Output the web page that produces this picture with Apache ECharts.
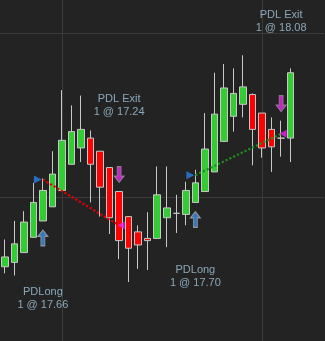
<!DOCTYPE html>
<html>
<head>
<meta charset="utf-8">
<script src="https://cdn.jsdelivr.net/npm/echarts@6/dist/echarts.min.js"></script>
<style>
html,body{margin:0;padding:0;background:#232323;}
#chart{width:325px;height:341px;}
</style>
</head>
<body>
<div id="chart"></div>
<script>
// ---- data ----
const categories = ['c1','c2','c3','c4','c5','c6','c7','c8','c9','c10','c11','c12','c13','c14','c15','c16','c17','c18','c19','c20','c21','c22','c23','c24','c25','c26','c27','c28','c29','c30','c31','c32','c33','c34'];
const opens  = [16.86,16.90,16.99,17.13,17.28,17.41,17.56,17.80,17.95,18.04,17.92,17.77,17.55,17.32,17.18,17.12,17.12,17.31,17.35,17.34,17.45,17.55,17.73,18.01,18.24,18.35,18.44,18.27,18.12,18.04,18.04];
const closes = [16.95,17.07,17.27,17.45,17.56,17.71,18.02,18.10,18.12,17.80,17.59,17.31,17.10,17.03,17.06,17.10,17.52,17.40,17.35,17.56,17.63,17.94,18.26,18.50,18.45,18.51,18.12,17.95,17.96,18.04,18.64];
const lows   = [16.80,16.78,16.99,17.13,17.28,17.41,17.56,17.80,17.82,17.45,17.32,17.16,16.93,16.72,16.84,16.83,17.12,17.04,17.17,17.24,17.45,17.55,17.73,18.01,18.10,18.23,17.79,17.86,17.73,17.87,17.82];
const highs  = [17.11,17.28,17.37,17.63,17.67,17.92,18.48,18.34,18.43,18.11,17.92,17.77,17.55,17.32,17.24,17.36,17.78,17.78,17.52,17.64,17.75,18.27,18.64,18.72,18.68,18.80,18.45,18.27,18.23,18.20,18.68];

const entryIdx    = [4, 20];
const entryPrices = [17.66, 17.70];
const entryNames  = ['PDLong', 'PDLong'];
const exitIdx     = [12, 29];
const exitPrices  = [17.24, 18.08];
const exitNames   = ['PDL Exit', 'PDL Exit'];
const quantities  = [1, 1];

const gridPrices = [17.5, 19.0];
const gridCats   = [6, 27];

// ---- layout / style ----
const yMin = 16.179, yMax = 19.307;
const entryLabelOffsets = [77, 74];
const exitLabelOffsets  = [-86, -99];
const textColor = '#a2c8de';
const upArrow = 'path://M5,0 L10,6.5 L7,6.5 L7,16 L3,16 L3,6.5 L0,6.5 Z';
const downArrow = 'path://M3,0 L7,0 L7,9.5 L10,9.5 L5,16 L0,9.5 L3,9.5 Z';
const rightTri = 'path://M0,0 L7,3.5 L0,7 Z';
const leftTri = 'path://M7,0 L0,3.5 L7,7 Z';

const candleData = opens.map((o, i) => [o, closes[i], lows[i], highs[i]]);

const series = [];
series.push({
  type: 'candlestick',
  data: candleData,
  barWidth: 7,
  z: 2,
  itemStyle: {
    color: '#33cc33', color0: '#ff0000',
    borderColor: '#c8c8c8', borderColor0: '#c8c8c8', borderColorDoji: '#c8c8c8',
    borderWidth: 1
  },
  markLine: {
    silent: true, symbol: 'none', z: 0, animation: false,
    label: {show: false},
    lineStyle: {color: '#3b3b3b', width: 1, type: 'solid'},
    data: gridPrices.map(p => ({yAxis: p})).concat(gridCats.map(c => ({xAxis: categories[c]})))
  }
});

// dotted trade lines
entryIdx.forEach((ei, t) => {
  const win = exitPrices[t] > entryPrices[t];
  series.push({
    type: 'line', z: 3, symbol: 'none', silent: true,
    data: [[ei, entryPrices[t]], [exitIdx[t], exitPrices[t]]],
    lineStyle: {color: win ? '#1f8f1f' : '#e80000', width: 2.2, type: [2.2, 2]}
  });
});

// entry triangles
series.push({
  type: 'scatter', z: 4, silent: true,
  symbol: rightTri, symbolSize: [8, 8], symbolOffset: [-5, 0],
  itemStyle: {color: '#2a7fe8'},
  data: entryIdx.map((ei, t) => [ei, entryPrices[t]])
});
// exit triangles
series.push({
  type: 'scatter', z: 4, silent: true,
  symbol: leftTri, symbolSize: [7, 8], symbolOffset: [2, 0],
  itemStyle: {color: '#f020f0'},
  data: exitIdx.map((xi, t) => [xi, exitPrices[t]])
});
// entry arrows (below candle low)
series.push({
  type: 'scatter', z: 4, silent: true,
  symbol: upArrow, symbolSize: [10, 16], symbolOffset: [0, 17],
  itemStyle: {color: '#3f8de0', borderColor: '#a9a9a9', borderWidth: 1},
  data: entryIdx.map(ei => [ei, lows[ei]])
});
// exit arrows (above candle high)
series.push({
  type: 'scatter', z: 4, silent: true,
  symbol: downArrow, symbolSize: [10, 16], symbolOffset: [0, -17],
  itemStyle: {color: '#e52ee5', borderColor: '#9a8a9a', borderWidth: 1},
  data: exitIdx.map(xi => [xi, highs[xi]])
});
// labels
const labelStyle = {
  show: true, position: 'inside', color: textColor,
  fontFamily: 'Liberation Sans, Arial, sans-serif', fontSize: 11,
  lineHeight: 13, align: 'center', verticalAlign: 'middle'
};
entryIdx.forEach((ei, t) => {
  series.push({
    type: 'scatter', z: 5, silent: true, symbolSize: 1,
    itemStyle: {color: 'rgba(0,0,0,0)'},
    label: Object.assign({}, labelStyle, {
      offset: [0, entryLabelOffsets[t]],
      formatter: entryNames[t] + '\n' + quantities[t] + ' @ ' + entryPrices[t].toFixed(2)
    }),
    data: [[ei, lows[ei]]]
  });
});
exitIdx.forEach((xi, t) => {
  series.push({
    type: 'scatter', z: 5, silent: true, symbolSize: 1,
    itemStyle: {color: 'rgba(0,0,0,0)'},
    label: Object.assign({}, labelStyle, {
      offset: [0, exitLabelOffsets[t]],
      formatter: exitNames[t] + '\n' + quantities[t] + ' @ ' + exitPrices[t].toFixed(2)
    }),
    data: [[xi, highs[xi]]]
  });
});

const chart = echarts.init(document.getElementById('chart'), null, {renderer: 'canvas'});
chart.setOption({
  animation: false,
  backgroundColor: '#232323',
  grid: {left: -1, right: 1, top: 0, bottom: 0, containLabel: false},
  xAxis: {
    type: 'category', data: categories, boundaryGap: true,
    axisLine: {show: false}, axisTick: {show: false}, axisLabel: {show: false},
    splitLine: {show: false}
  },
  yAxis: {
    type: 'value', min: yMin, max: yMax, scale: true,
    axisLine: {show: false}, axisTick: {show: false}, axisLabel: {show: false},
    splitLine: {show: false}
  },
  series: series
});
</script>
</body>
</html>
